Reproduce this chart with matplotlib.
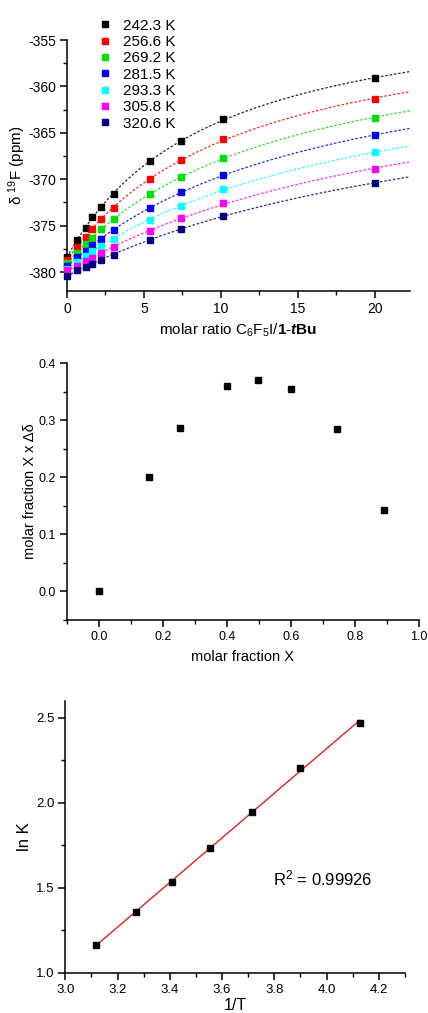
import matplotlib
matplotlib.use('Agg')
import matplotlib.pyplot as plt
from matplotlib.lines import Line2D
from matplotlib.ticker import MultipleLocator
import numpy as np


plt.rcParams['font.family'] = ['Liberation Sans', 'DejaVu Sans']
plt.rcParams['mathtext.fontset'] = 'custom'
plt.rcParams['mathtext.rm'] = 'Liberation Sans'
plt.rcParams['mathtext.it'] = 'Liberation Sans:italic'
plt.rcParams['mathtext.bf'] = 'Liberation Sans:bold'
plt.rcParams['mathtext.bfit'] = 'Liberation Sans:italic:bold'
plt.rcParams['axes.unicode_minus'] = False
plt.rcParams['font.size'] = 10


# titration: molar ratio vs shift, one series per temperature
ratio = np.array([0, 0.63, 1.23, 1.65, 2.19, 3.05, 5.39, 7.42, 10.15, 20.05])
temps = ['242.3 K', '256.6 K', '269.2 K', '281.5 K', '293.3 K', '305.8 K', '320.6 K']
colors = ['#000000', '#ff0000', '#00e000', '#0000ff', '#00ffff', '#ff00ff', '#000080']
shift_242 = [-378.38, -376.58, -375.25, -374.1, -373.0, -371.55, -368.0, -365.93, -363.5, -359.1]
shift_257 = [-378.67, -377.3, -376.2, -375.36, -374.3, -373.06, -370.0, -367.9, -365.65, -361.33]
shift_269 = [-379.0, -377.9, -377.0, -376.3, -375.4, -374.3, -371.6, -369.75, -367.7, -363.35]
shift_282 = [-379.35, -378.4, -377.7, -377.1, -376.4, -375.5, -373.1, -371.4, -369.5, -365.25]
shift_293 = [-379.64, -378.96, -378.24, -377.77, -377.16, -376.44, -374.35, -372.88, -371.04, -367.12]
shift_306 = [-379.8, -379.35, -378.8, -378.5, -377.95, -377.3, -375.58, -374.2, -372.55, -368.85]
shift_321 = [-380.43, -379.75, -379.46, -379.17, -378.74, -378.13, -376.5, -375.36, -373.92, -370.4]
shifts = [shift_242, shift_257, shift_269, shift_282, shift_293, shift_306, shift_321]

# job plot
mol_frac = [0.0, 0.158, 0.253, 0.400, 0.499, 0.601, 0.745, 0.892]
job_val = [0.0, 0.201, 0.286, 0.360, 0.370, 0.355, 0.284, 0.143]

# van't Hoff
inv_T = [3.119, 3.270, 3.409, 3.552, 3.715, 3.897, 4.127]
ln_K = [1.164, 1.358, 1.538, 1.733, 1.948, 2.208, 2.469]


def fit_isotherm(x, y):
    # simple 1:1 hyperbola, scan K and solve the linear part
    best = None
    for k in np.linspace(0.002, 1.5, 3000):
        f = k * x / (1 + k * x)
        A = np.column_stack([np.ones_like(x), f])
        coef = np.linalg.lstsq(A, y, rcond=None)[0]
        err = np.sum((A @ coef - y) ** 2)
        if best is None or err < best[0]:
            best = (err, k, coef)
    return best[1], best[2]


def style_axis(ax, size):
    for s in ['top', 'right']:
        ax.spines[s].set_visible(False)
    for s in ['left', 'bottom']:
        ax.spines[s].set_linewidth(1.1)
    ax.tick_params(which='major', direction='out', length=5, width=1.1,
                   labelsize=size, pad=3)
    ax.tick_params(which='minor', direction='out', length=3, width=1.0)


fig = plt.figure(figsize=(4.28, 10.13), dpi=100)

# panel 1
ax1 = fig.add_axes([0.1565, 0.7127, 0.8015, 0.2478])
xs = np.linspace(0, 22.3, 200)
for lab, c, y in zip(temps, colors, shifts):
    y = np.array(y)
    k, coef = fit_isotherm(ratio, y)
    ax1.plot(xs, coef[0] + coef[1] * k * xs / (1 + k * xs), ls=(0, (2, 1.5)),
             color=c, lw=0.9, alpha=0.85)
    ax1.plot(ratio, y, 's', color=c, ms=4, clip_on=False, zorder=3)
ax1.set_xlim(0, 22.3)
ax1.set_ylim(-382.05, -355)
ax1.xaxis.set_major_locator(MultipleLocator(5))
ax1.xaxis.set_minor_locator(MultipleLocator(2.5))
ax1.yaxis.set_major_locator(MultipleLocator(5))
ax1.yaxis.set_minor_locator(MultipleLocator(2.5))
style_axis(ax1, 10)
ax1.set_xlabel('molar ratio C$_6$F$_5$I/$\\mathbf{1}$-$\\mathbfit{t}\\mathbf{Bu}$',
               fontsize=11)
ax1.set_ylabel('δ $\\mathregular{^{19}}$F (ppm)', fontsize=11)
ax1.xaxis.set_label_coords(0.5, -0.12)
ax1.yaxis.set_label_coords(-0.114, 0.5)
handles = [Line2D([], [], ls='none', marker='s', ms=4, color=c) for c in colors]
fig.legend(handles, temps, loc='upper left', bbox_to_anchor=(0.21, 0.989),
           frameon=False, fontsize=11, labelspacing=0.15, handlelength=1.0,
           handletextpad=0.7, borderpad=0)

# panel 2
ax2 = fig.add_axes([0.1558, 0.388, 0.823, 0.254])
ax2.plot(mol_frac, job_val, 's', color='black', ms=4.5, clip_on=False)
ax2.set_xlim(-0.1, 1.0)
ax2.set_ylim(-0.05, 0.401)
ax2.xaxis.set_major_locator(MultipleLocator(0.2))
ax2.xaxis.set_minor_locator(MultipleLocator(0.1))
ax2.yaxis.set_major_locator(MultipleLocator(0.1))
ax2.yaxis.set_minor_locator(MultipleLocator(0.05))
style_axis(ax2, 9)
ax2.set_xticks([0.0, 0.2, 0.4, 0.6, 0.8, 1.0])
ax2.set_xticklabels(['0.0', '0.2', '0.4', '0.6', '0.8', '1.0'])
ax2.set_yticks([0.0, 0.1, 0.2, 0.3, 0.4])
ax2.set_yticklabels(['0.0', '0.1', '0.2', '0.3', '0.4'])
ax2.set_xlabel('molar fraction X', fontsize=10.5)
ax2.set_ylabel('molar fraction X x Δδ', fontsize=10.5)
ax2.xaxis.set_label_coords(0.5, -0.117)
ax2.yaxis.set_label_coords(-0.084, 0.5)

# panel 3
ax3 = fig.add_axes([0.1526, 0.0395, 0.7935, 0.2685])
slope, icpt = np.polyfit(inv_T, ln_K, 1)
xl = np.array([inv_T[0], inv_T[-1]])
ax3.plot(xl, slope * xl + icpt, color='#e02020', lw=1.0)
ax3.plot(inv_T, ln_K, 's', color='black', ms=4.5, clip_on=False)
ax3.set_xlim(3.0, 4.3)
ax3.set_ylim(1.0, 2.6)
ax3.xaxis.set_major_locator(MultipleLocator(0.2))
ax3.xaxis.set_minor_locator(MultipleLocator(0.1))
ax3.yaxis.set_major_locator(MultipleLocator(0.5))
ax3.yaxis.set_minor_locator(MultipleLocator(0.25))
style_axis(ax3, 9.5)
ax3.set_xticks([3.0, 3.2, 3.4, 3.6, 3.8, 4.0, 4.2])
ax3.set_xticklabels(['3.0', '3.2', '3.4', '3.6', '3.8', '4.0', '4.2'])
ax3.set_yticks([1.0, 1.5, 2.0, 2.5])
ax3.set_yticklabels(['1.0', '1.5', '2.0', '2.5'])
ax3.text(3.795, 1.555, 'R$^2$ = 0.99926', fontsize=12, va='center')
ax3.set_xlabel('1/T', fontsize=11.5)
ax3.set_ylabel('ln K', fontsize=12)
ax3.xaxis.set_label_coords(0.5, -0.092)
ax3.yaxis.set_label_coords(-0.098, 0.5)

fig.savefig('out.png', dpi=100)
